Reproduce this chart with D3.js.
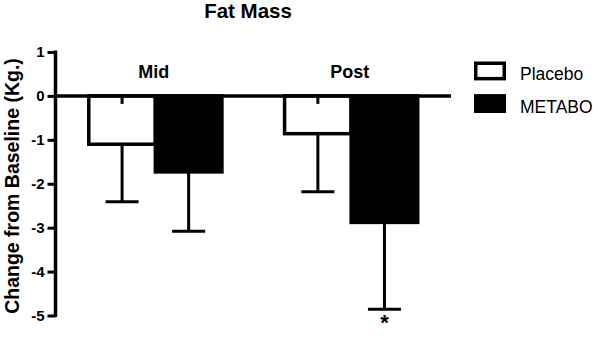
<!DOCTYPE html>
<html>
<head>
<meta charset="utf-8">
<script src="https://cdn.jsdelivr.net/npm/d3@7"></script>
<style>
  body { margin: 0; background: #fff; }
  svg { display: block; font-family: "Liberation Sans", Arial, sans-serif; }
</style>
</head>
<body>
<svg id="chart" width="600" height="341"></svg>
<script>
(() => {
    // data
    const groups = ["Mid", "Post"];
    const seriesNames = ["Placebo", "METABO"];
    const placeboMean = [-1.10, -0.86];
    const placeboSD = [1.31, 1.32];
    const metaboMean = [-1.73, -2.88];
    const metaboSD = [1.35, 1.98];
    const yTicks = [1, 0, -1, -2, -3, -4, -5];
    const starred = [{ group: "Post", series: "METABO" }];

    const svg = d3.select("svg#chart");
    const ink = "#000";

    const rows = [];
    groups.forEach((g, i) => {
        rows.push({ group: g, series: "Placebo", mean: placeboMean[i], sd: placeboSD[i] });
        rows.push({ group: g, series: "METABO", mean: metaboMean[i], sd: metaboSD[i] });
    });

    // scales
    const axisX = 55.5;
    const yScale = d3.scaleLinear().domain([-5, 1]).range([315.5, 52]);
    const xGroup = d3.scaleBand().domain(groups).range([axisX, 451])
        .paddingInner(0.32).paddingOuter(0.17);
    const xSeries = d3.scaleBand().domain(seriesNames).range([0, xGroup.bandwidth()]);
    const barX = d => xGroup(d.group) + xSeries(d.series);
    const barMid = d => barX(d) + xSeries.bandwidth() / 2;

    // title
    svg.append("text")
        .attr("x", 248).attr("y", 17.5)
        .attr("text-anchor", "middle")
        .attr("font-size", 20.5).attr("font-weight", "bold")
        .text("Fat Mass");

    // y axis title
    svg.append("text")
        .attr("transform", "translate(18.5,186) rotate(-90)")
        .attr("text-anchor", "middle")
        .attr("font-size", 19.5).attr("font-weight", "bold")
        .text("Change from Baseline (Kg.)");

    // error bars (drawn first, bars sit on top)
    const errG = svg.append("g");
    errG.selectAll("line.stem").data(rows).join("line")
        .attr("class", "stem")
        .attr("x1", barMid).attr("x2", barMid)
        .attr("y1", d => yScale(d.mean)).attr("y2", d => yScale(d.mean - d.sd))
        .attr("stroke", ink).attr("stroke-width", 3);
    errG.selectAll("line.cap").data(rows).join("line")
        .attr("class", "cap")
        .attr("x1", d => barMid(d) - 16.5).attr("x2", d => barMid(d) + 16.5)
        .attr("y1", d => yScale(d.mean - d.sd)).attr("y2", d => yScale(d.mean - d.sd))
        .attr("stroke", ink).attr("stroke-width", 3);

    // bars
    svg.append("g").selectAll("rect").data(rows).join("rect")
        .attr("x", barX)
        .attr("y", yScale(0))
        .attr("width", xSeries.bandwidth())
        .attr("height", d => yScale(d.mean) - yScale(0))
        .attr("fill", d => d.series === "Placebo" ? "#fff" : ink)
        .attr("stroke", ink).attr("stroke-width", 3.5);

    // small stub at the top of each bar centre
    svg.append("g").selectAll("line").data(rows).join("line")
        .attr("x1", barMid).attr("x2", barMid)
        .attr("y1", yScale(0)).attr("y2", yScale(0) + 8)
        .attr("stroke", ink).attr("stroke-width", 3);

    // zero line
    svg.append("line")
        .attr("x1", axisX).attr("x2", 451)
        .attr("y1", yScale(0)).attr("y2", yScale(0))
        .attr("stroke", ink).attr("stroke-width", 3.5);

    // y axis
    const yAxis = svg.append("g")
        .attr("transform", `translate(${axisX},0)`)
        .call(d3.axisLeft(yScale).tickValues(yTicks).tickSize(8).tickPadding(3)
            .tickFormat(d => String(d)));
    yAxis.select(".domain").remove();
    yAxis.append("line")
        .attr("y1", yScale(1) - 1.5).attr("y2", yScale(-5) + 1.5)
        .attr("stroke", ink).attr("stroke-width", 3.5);
    yAxis.selectAll(".tick line").attr("stroke", ink).attr("stroke-width", 3);
    yAxis.selectAll(".tick text")
        .attr("fill", ink)
        .attr("font-size", 15).attr("font-weight", "bold")
        .attr("font-family", "Liberation Sans, Arial, sans-serif");

    // group labels
    svg.append("g").selectAll("text").data(groups).join("text")
        .attr("x", d => xGroup(d) + xGroup.bandwidth() / 2 - 1.5)
        .attr("y", 77.5)
        .attr("text-anchor", "middle")
        .attr("font-size", 18).attr("font-weight", "bold")
        .text(d => d);

    // significance marks
    svg.append("g").selectAll("text").data(starred).join("text")
        .attr("x", d => xGroup(d.group) + xSeries(d.series) + xSeries.bandwidth() / 2)
        .attr("y", d => {
            const r = rows.find(q => q.group === d.group && q.series === d.series);
            return yScale(r.mean - r.sd) + 21;
        })
        .attr("text-anchor", "middle")
        .attr("font-size", 22).attr("font-weight", "bold")
        .text("*");

    // legend
    const legend = svg.append("g").attr("transform", "translate(474,0)");
    const legendY = d3.scaleBand().domain(seriesNames).range([61.5, 113]).paddingInner(0.42);
    legend.selectAll("rect").data(seriesNames).join("rect")
        .attr("x", 1.75)
        .attr("y", d => legendY(d) + 1.75)
        .attr("width", 28.5)
        .attr("height", legendY.bandwidth() - 3.5)
        .attr("fill", d => d === "Placebo" ? "#fff" : ink)
        .attr("stroke", ink).attr("stroke-width", 3.5);
    legend.selectAll("text").data(seriesNames).join("text")
        .attr("x", 46)
        .attr("y", d => legendY(d) + legendY.bandwidth() - 0.5)
        .attr("font-size", 17.5)
        .text(d => d);
})();
</script>
</body>
</html>
